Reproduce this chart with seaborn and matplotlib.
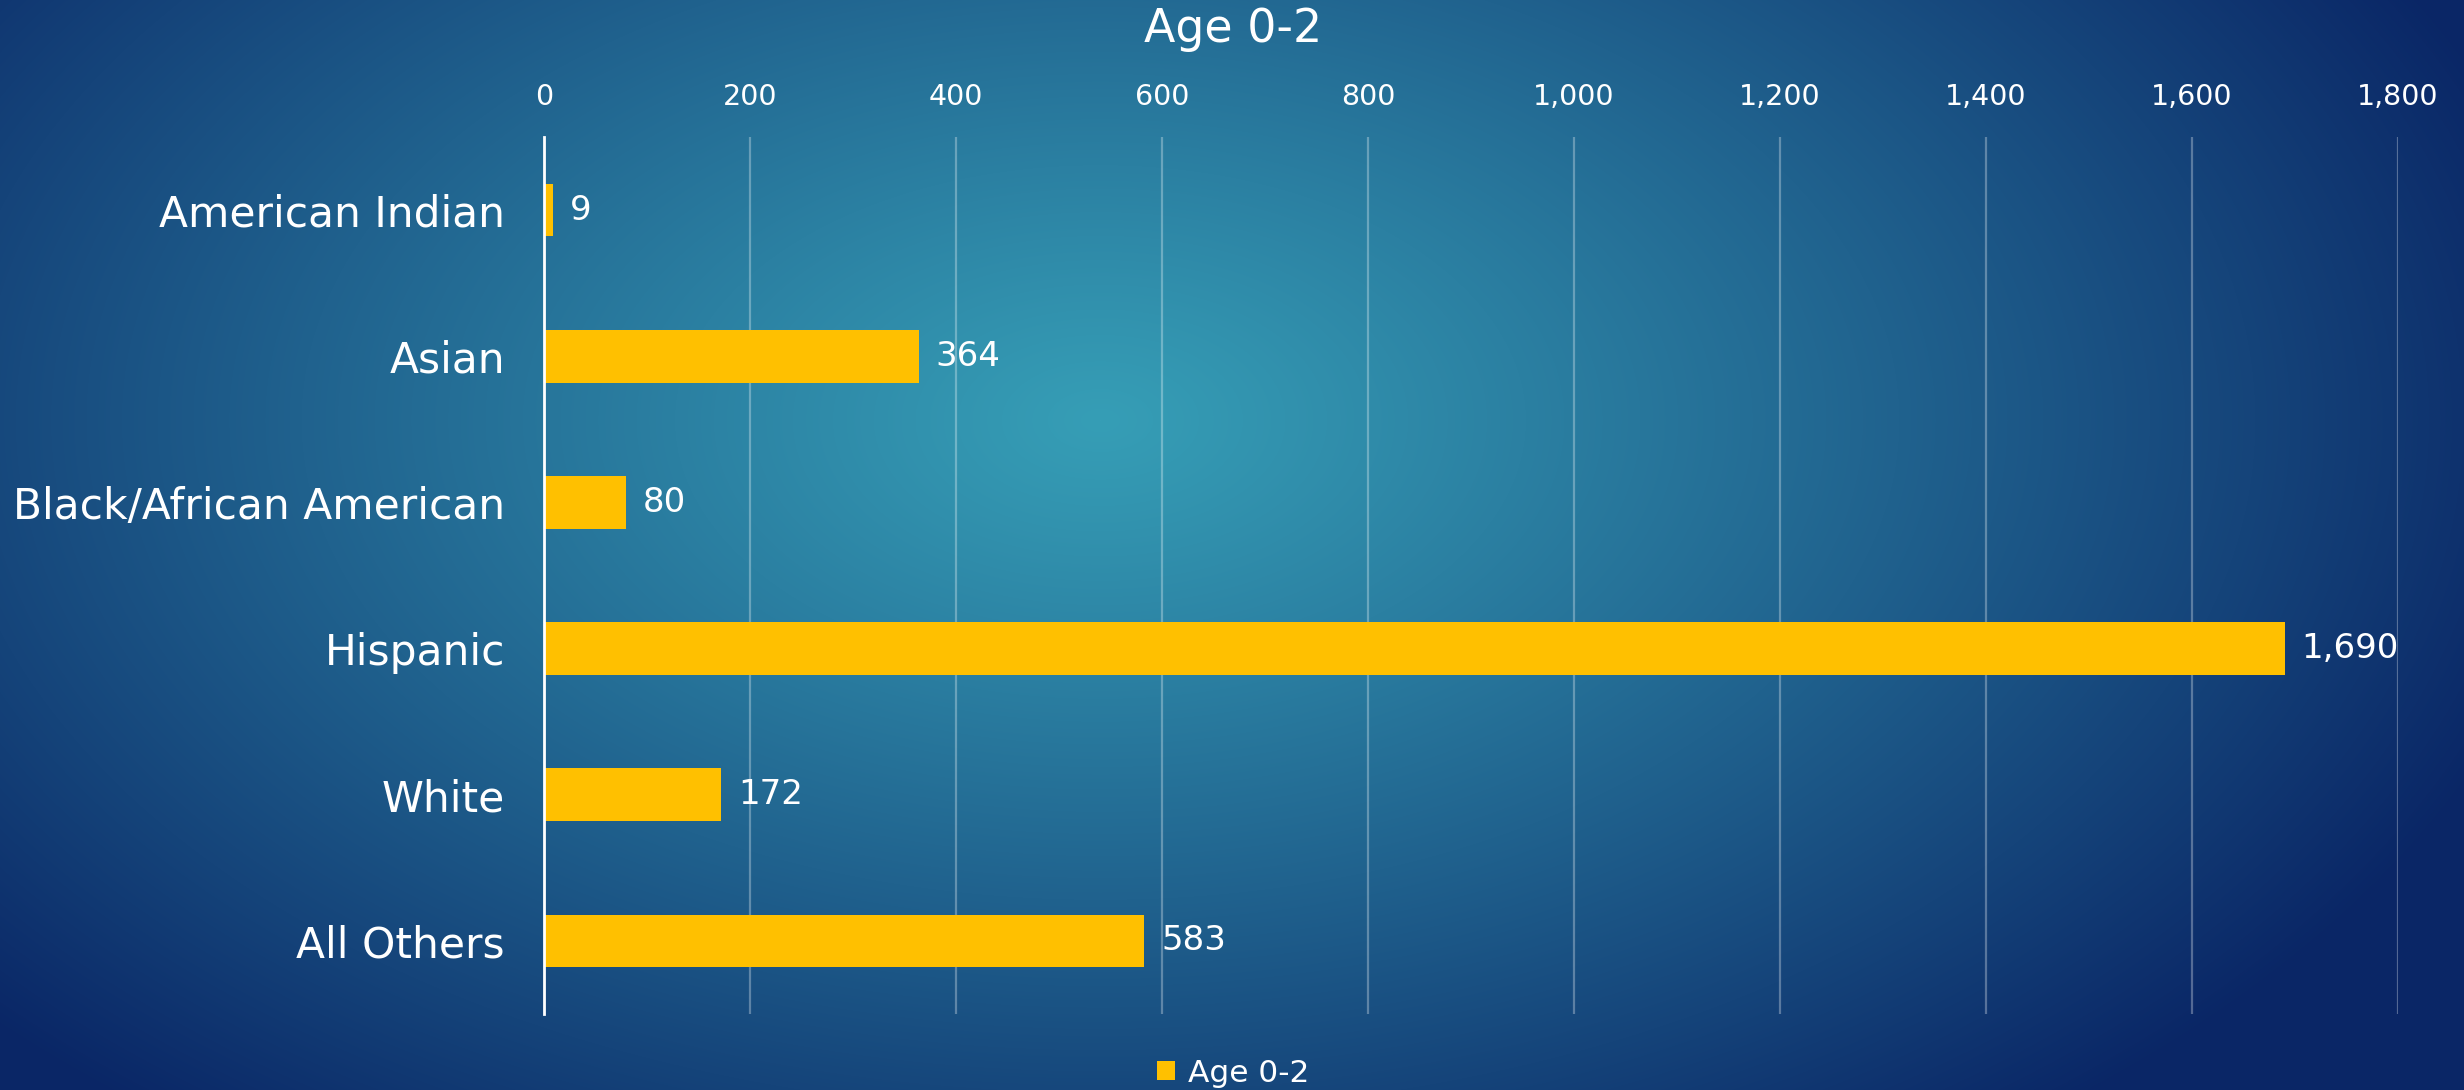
import numpy as np
import pandas as pd
import matplotlib
matplotlib.use("Agg")
import matplotlib.pyplot as plt
from matplotlib.ticker import FuncFormatter
from matplotlib.patches import Patch
import seaborn as sns

categories = ["American Indian", "Asian", "Black/African American", "Hispanic", "White", "All Others"]
values = [9, 364, 80, 1690, 172, 583]
series_name = "Age 0-2"
x_ticks = [0, 200, 400, 600, 800, 1000, 1200, 1400, 1600, 1800]

df = pd.DataFrame({"category": categories, "value": values})

sns.set_theme(style="white")
FONT = ["DejaVu Sans"]
plt.rcParams["font.family"] = FONT

W, H = 2464, 1090
fig = plt.figure(figsize=(W / 100, H / 100), dpi=100)

# radial gradient background
bg = fig.add_axes([0, 0, 1, 1], zorder=-10)
yy, xx = np.mgrid[0:H, 0:W]
cx, cy = 1100, 420
r = np.sqrt(((xx - cx) / 1500.0) ** 2 + ((yy - cy) / 900.0) ** 2)
r = np.clip(r, 0, 1)
c0 = np.array([54, 158, 182]) / 255.0
c1 = np.array([10, 38, 102]) / 255.0
t = r[..., None] ** 1.1
img = c0 * (1 - t) + c1 * t
bg.imshow(img, aspect="auto", extent=[0, 1, 0, 1], origin="upper")
bg.axis("off")

left, right, top, bottom = 544, 2398, 137, 1014
ax = fig.add_axes([left / W, 1 - bottom / H, (right - left) / W, (bottom - top) / H])
ax.patch.set_alpha(0)

sns.barplot(data=df, x="value", y="category", orient="h", color="#FFC000",
            width=0.36, saturation=1, linewidth=0, ax=ax, zorder=3)

ax.set_xlim(0, 1800)
ax.set_ylim(5.5, -0.5)
ax.set_xticks(x_ticks)
ax.xaxis.set_major_formatter(FuncFormatter(lambda v, p: f"{int(v):,}"))
ax.xaxis.tick_top()
ax.tick_params(axis="x", colors="white", labelsize=20.5, length=0, pad=19)
ax.tick_params(axis="y", colors="white", labelsize=30.5, length=0, pad=28)
for lab in ax.get_xticklabels() + ax.get_yticklabels():
    lab.set_color("white")
ax.set_xlabel("")
ax.set_ylabel("")
ax.grid(axis="x", color="white", alpha=0.3, linewidth=1.6, zorder=0)
ax.grid(axis="y", visible=False)
for s in ["top", "right", "bottom"]:
    ax.spines[s].set_visible(False)
ax.spines["left"].set_color("white")
ax.spines["left"].set_linewidth(2)
ax.spines["left"].set_zorder(5)

for cont in ax.containers:
    ax.bar_label(cont, labels=[f"{v:,}" for v in values], padding=12,
                 color="white", fontsize=24.5)

fig.text(1233 / W, 1 - 30 / H, "Age 0-2", ha="center", va="center",
         color="white", fontsize=33)

leg = fig.legend(handles=[Patch(facecolor="#FFC000", edgecolor="none", label=series_name)],
                 loc="center", bbox_to_anchor=(1233 / W, 1 - 1073 / H),
                 frameon=False, fontsize=22.5, handlelength=0.6, handleheight=0.6,
                 handletextpad=0.4, labelcolor="white")

fig.savefig("out.png", dpi=100)
